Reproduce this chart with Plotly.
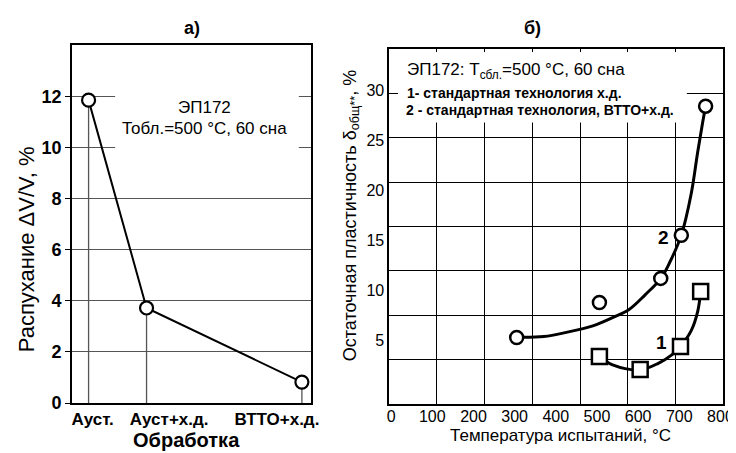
import plotly.graph_objects as go

W, H = 736, 453
FONT = "Liberation Sans, Arial, sans-serif"

# ---------------- Panel а) data ----------------
treatments = ["Ауст.", "Ауст+х.д.", "ВТТО+х.д."]
treat_pos = [0, 1, 3.68]              # category positions on the numeric x axis
treat_label_pos = [0.07, 1.39, 3.25]  # where the category labels are printed
swelling = [11.85, 3.72, 0.82]        # ΔV/V, %
swell_ticks = [0, 2, 4, 6, 8, 10, 12]

# ---------------- Panel б) data ----------------
temp_circles = [305, 506, 655, 705, 764]
plast_circles = [5.3, 8.8, 11.2, 15.5, 28.4]
temp_squares = [506, 605, 703, 752]
plast_squares = [3.4, 2.1, 4.4, 9.9]

curve2_t = [305, 371, 426, 490, 538, 578, 617, 655, 677, 705, 729, 745, 757, 764]
curve2_v = [5.32, 5.39, 5.81, 6.46, 7.28, 8.10, 9.56, 11.18, 12.81, 15.52, 19.65, 23.88, 26.81, 28.37]
curve1_t = [506, 538, 605, 649, 681, 703, 729, 745, 752]
curve1_v = [3.37, 2.56, 2.07, 2.72, 3.54, 4.41, 5.98, 7.93, 9.95]

temp_ticks = [0, 100, 200, 300, 400, 500, 600, 700, 800]
plast_ticks = [5, 10, 15, 20, 25, 30]


def px(x):
    return x / W


def py(y):
    return 1 - y / H


fig = go.Figure()

# drop lines (panel a)
dx, dy = [], []
for p, v in zip(treat_pos, swelling):
    dx += [p, p, None]
    dy += [0, v, None]
fig.add_trace(go.Scatter(x=dx, y=dy, mode="lines", line=dict(color="#555555", width=1.3),
                         xaxis="x", yaxis="y", hoverinfo="skip", showlegend=False))
fig.add_trace(go.Scatter(x=treat_pos, y=swelling, mode="lines+markers",
                         line=dict(color="black", width=2),
                         marker=dict(symbol="circle", size=13, color="white",
                                     line=dict(color="black", width=2.2)),
                         xaxis="x", yaxis="y", showlegend=False))

# panel b curves
fig.add_trace(go.Scatter(x=curve2_t, y=curve2_v, mode="lines", line=dict(color="black", width=3, shape="spline"),
                         xaxis="x2", yaxis="y2", hoverinfo="skip", showlegend=False))
fig.add_trace(go.Scatter(x=curve1_t, y=curve1_v, mode="lines", line=dict(color="black", width=3, shape="spline"),
                         xaxis="x2", yaxis="y2", hoverinfo="skip", showlegend=False))
fig.add_trace(go.Scatter(x=temp_circles, y=plast_circles, mode="markers",
                         marker=dict(symbol="circle", size=13, color="white", line=dict(color="black", width=2.5)),
                         xaxis="x2", yaxis="y2", showlegend=False))
fig.add_trace(go.Scatter(x=temp_squares, y=plast_squares, mode="markers",
                         marker=dict(symbol="square", size=15, color="white", line=dict(color="black", width=2.5)),
                         xaxis="x2", yaxis="y2", showlegend=False))
# dummy trace so the grid-overlay axes are rendered
fig.add_trace(go.Scatter(x=[None], y=[None], xaxis="x3", yaxis="y3", showlegend=False, hoverinfo="skip"))

axis_common = dict(showline=True, mirror=True, linecolor="black", linewidth=1.5, zeroline=False)

fig.update_layout(
    width=W, height=H, margin=dict(l=0, r=0, t=0, b=0),
    paper_bgcolor="white", plot_bgcolor="white",
    font=dict(family=FONT, color="black"),
    showlegend=False,
    xaxis=dict(domain=[px(63), px(306)], range=[-0.288, 3.83], tickmode="array",
               tickvals=treat_label_pos, ticktext=treatments, ticks="", showgrid=False,
               tickfont=dict(size=17, weight="bold"), anchor="y", **axis_common),
    yaxis=dict(domain=[py(404), py(38)], range=[0, 14], tickmode="array", tickvals=swell_ticks,
               showgrid=True, gridcolor="#555555", gridwidth=1, ticks="outside", ticklen=5,
               tickcolor="black", tickfont=dict(size=18, weight="bold"), anchor="x", **axis_common),
    xaxis2=dict(domain=[px(386), px(726)], range=[-4.8, 806.7], tickmode="array", tickvals=temp_ticks,
                ticks="", showgrid=False, tickfont=dict(size=16), ticklabelstandoff=-3,
                anchor="y2", **axis_common),
    yaxis2=dict(domain=[py(405), py(41.7)], range=[-1.35, 34.13], tickmode="array", tickvals=plast_ticks,
                ticks="", showgrid=False, tickfont=dict(size=16), anchor="x2", **axis_common),
    xaxis3=dict(overlaying="x2", anchor="y3", range=[0, 7], dtick=1, tickmode="linear", tick0=0,
                showgrid=True, gridcolor="black", gridwidth=1, showticklabels=False, ticks="",
                showline=False, zeroline=False),
    yaxis3=dict(overlaying="y2", anchor="x3", range=[0, 8], dtick=1, tickmode="linear", tick0=0,
                showgrid=True, gridcolor="black", gridwidth=1, showticklabels=False, ticks="",
                showline=False, zeroline=False),
)

# white boxes behind the text blocks
fig.add_shape(type="rect", xref="paper", yref="paper", x0=px(107), x1=px(294), y0=py(150), y1=py(84),
              fillcolor="white", line=dict(width=0), layer="above")
fig.add_shape(type="rect", xref="paper", yref="paper", x0=px(395), x1=px(689), y0=py(117), y1=py(45),
              fillcolor="white", line=dict(width=0), layer="above")


def ann(text, x, y, size, bold=False, angle=0, xanchor="center"):
    fig.add_annotation(text=text, x=px(x), y=py(y), xref="paper", yref="paper", showarrow=False,
                       xanchor=xanchor, yanchor="middle", textangle=angle,
                       font=dict(family=FONT, size=size, color="black", weight="bold" if bold else "normal"))


ann("а)", 185, 20, 18, bold=True)
ann("б)", 532, 20, 18, bold=True)
ann("Обработка", 180, 442, 20, bold=True)
ann("Распухание \u0394V/V, %", 17, 247, 22, angle=-90)
ann("ЭП172", 198, 102, 17)
ann("Тобл.=500 °С, 60 сна", 198, 123, 17)
ann("Остаточная пластичность \u03b4<sub>общ**</sub>, %", 347, 212, 18, angle=-90)
ann("Температура испытаний, °С", 560, 437, 17)
ann("ЭП172: Т<sub>сбл.</sub>=500 °С, 60 сна", 402, 64, 17, xanchor="left")
ann("1- стандартная технология х.д.", 402, 87, 14, bold=True, xanchor="left")
ann("2 - стандартная технология, ВТТО+х.д.", 401, 104, 14, bold=True, xanchor="left")

# curve labels in data coordinates
fig.add_annotation(text="2", x=661, y=15.25, xref="x2", yref="y2", showarrow=False,
                   font=dict(family=FONT, size=19, weight="bold", color="black"))
fig.add_annotation(text="1", x=657, y=4.83, xref="x2", yref="y2", showarrow=False,
                   font=dict(family=FONT, size=19, weight="bold", color="black"))

fig.write_html("out.html")
